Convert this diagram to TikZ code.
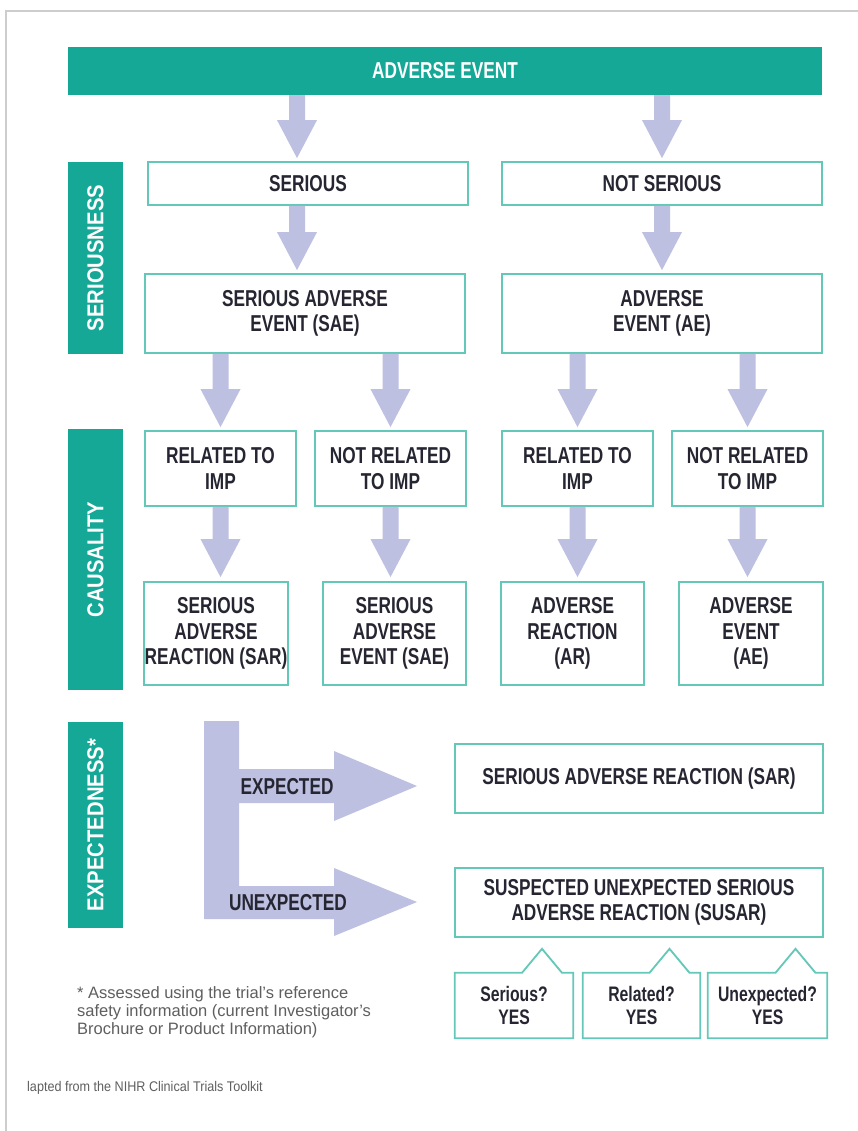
\documentclass[tikz,border=0pt]{standalone}
\usepackage{fontspec}
\setmainfont{Liberation Sans}
\newfontfamily\cond{Liberation Sans}[FakeStretch=0.75]
\newfontfamily\condside{Liberation Sans}[FakeStretch=0.88]
\newfontfamily\condfoot{Liberation Sans}[FakeStretch=0.9]
\usetikzlibrary{calc}
\definecolor{teal1}{RGB}{22,168,150}
\definecolor{bordercol}{RGB}{100,200,185}
\definecolor{arrcol}{RGB}{190,192,226}
\definecolor{txtcol}{RGB}{38,38,50}
\definecolor{footcol}{RGB}{95,95,95}
\definecolor{framecol}{RGB}{205,205,205}
\tikzset{
 box/.style={draw=bordercol, line width=1.8pt, fill=white, inner sep=0pt, align=center, text=txtcol, font=\cond\bfseries\fontsize{23}{25.5}\selectfont},
 sidebar/.style={fill=teal1, inner sep=0pt, text=white, font=\condside\bfseries\fontsize{23}{25}\selectfont},
 hdrbar/.style={fill=teal1, inner sep=0pt, text=white, font=\cond\bfseries\fontsize{23}{25}\selectfont},
 arr/.style={fill=arrcol},
 calloutbox/.style={inner sep=0pt, align=center, text=txtcol, font=\cond\bfseries\fontsize{21}{23}\selectfont},
 callline/.style={draw=bordercol, line width=1.8pt, line join=miter},
 elabel/.style={inner sep=0pt, text=txtcol, font=\cond\bfseries\fontsize{23}{25}\selectfont},
}
\newcommand\fatdown[2]{\fill[arr] let \p1=#1, \p2=#2 in (\x1-8pt,\y1) -- (\x1+8pt,\y1) -- (\x1+8pt,\y2+38pt) -- (\x1+20pt,\y2+38pt) -- (\x1,\y2) -- (\x1-20pt,\y2+38pt) -- (\x1-8pt,\y2+38pt) -- cycle;}
\newcommand\callout[4]{%
  \node[calloutbox, minimum width=#3pt, minimum height=65pt] (#1) at (#2,1005.5) {#4};
  \draw[callline] (#1.north west) -- ([xshift=8pt]#1.north) -- ([xshift=28pt,yshift=24pt]#1.north) -- ([xshift=48pt]#1.north) -- (#1.north east) -- (#1.south east) -- (#1.south west) -- cycle;}
\begin{document}
\begin{tikzpicture}[x=1pt,y=-1pt]
\useasboundingbox (0,0) rectangle (858,1131);
\fill[white] (0,0) rectangle (858,1131);
% page frame
\draw[framecol, line width=1.5pt] (6,1131) -- (6,11) -- (858,11);

% header
\node[hdrbar, minimum width=754pt, minimum height=48pt] (hdr) at (445,71) {ADVERSE EVENT};

% side bars
\node[sidebar, rotate=90, minimum width=192pt, minimum height=55pt] (sb1) at (95.5,258) {SERIOUSNESS};
\node[sidebar, rotate=90, minimum width=261pt, minimum height=55pt] (sb2) at (95.5,559.5) {CAUSALITY};
\node[sidebar, rotate=90, minimum width=206pt, minimum height=55pt] (sb3) at (95.5,825) {EXPECTEDNESS*};

% row 1
\node[box, minimum width=320pt, minimum height=43pt] (serious) at (308,183.5) {SERIOUS};
\node[box, minimum width=320pt, minimum height=43pt] (notser) at (662,183.5) {NOT SERIOUS};
% row 2
\node[box, minimum width=320pt, minimum height=79pt] (sae) at (305,313.5) {SERIOUS ADVERSE\\EVENT (SAE)};
\node[box, minimum width=320pt, minimum height=79pt] (ae) at (662,313.5) {ADVERSE\\EVENT (AE)};
% row 3
\node[box, minimum width=151pt, minimum height=75pt] (r1) at (220.5,468.5) {RELATED TO\\IMP};
\node[box, minimum width=151pt, minimum height=75pt] (r2) at (390.5,468.5) {NOT RELATED\\TO IMP};
\node[box, minimum width=151pt, minimum height=75pt] (r3) at (577.5,468.5) {RELATED TO\\IMP};
\node[box, minimum width=151pt, minimum height=75pt] (r4) at (747.5,468.5) {NOT RELATED\\TO IMP};
% row 4
\node[box, minimum width=144pt, minimum height=103pt] (s1) at (216,633.5) {SERIOUS\\ADVERSE\\REACTION (SAR)};
\node[box, minimum width=143pt, minimum height=103pt] (s2) at (394.5,633.5) {SERIOUS\\ADVERSE\\EVENT (SAE)};
\node[box, minimum width=143pt, minimum height=103pt] (s3) at (572.5,633.5) {ADVERSE\\REACTION\\(AR)};
\node[box, minimum width=144pt, minimum height=103pt] (s4) at (751,633.5) {ADVERSE\\EVENT\\(AE)};

% arrows
\coordinate (a1) at ([xshift=-11pt]serious.north);
\fatdown{(a1 |- hdr.south)}{([yshift=3pt]serious.north)}
\fatdown{(notser.north |- hdr.south)}{([yshift=3pt]notser.north)}
\fatdown{(a1 |- serious.south)}{([yshift=3pt]sae.north)}
\fatdown{(notser.south)}{([yshift=3pt]ae.north)}
\fatdown{(r1.north |- sae.south)}{([yshift=3pt]r1.north)}
\fatdown{(r2.north |- sae.south)}{([yshift=3pt]r2.north)}
\fatdown{(r3.north |- ae.south)}{([yshift=3pt]r3.north)}
\fatdown{(r4.north |- ae.south)}{([yshift=3pt]r4.north)}
\fatdown{(r1.south)}{([yshift=4pt]s1.north)}
\fatdown{(r2.south)}{([yshift=4pt]s2.north)}
\fatdown{(r3.south)}{([yshift=4pt]s3.north)}
\fatdown{(r4.south)}{([yshift=4pt]s4.north)}

% expectedness L-arrow
\fill[arr] (204,721) -- (239,721) -- (239,769) -- (334,769) -- (334,751) -- (417,786) -- (334,821) -- (334,803) -- (239,803) -- (239,886) -- (334,886) -- (334,868) -- (417,902) -- (334,936) -- (334,919) -- (204,919) -- cycle;
\node[elabel] (lexp) at (287,787) {EXPECTED};
\node[elabel] (lunexp) at (288,903) {UNEXPECTED};

% outcome boxes
\node[box, minimum width=368pt, minimum height=69pt] (sar) at (639,778.5) {SERIOUS ADVERSE REACTION (SAR)};
\node[box, minimum width=368pt, minimum height=69pt] (susar) at (639,902.5) {SUSPECTED UNEXPECTED SERIOUS\\ADVERSE REACTION (SUSAR)};

% callouts
\callout{c1}{514}{118}{Serious?\\YES}
\callout{c2}{641.5}{117}{Related?\\YES}
\callout{c3}{767.5}{119}{Unexpected?\\YES}

% footnote
\node[anchor=north west, align=left, inner sep=0pt, text=footcol, font=\fontsize{16.5}{18}\selectfont] (fn) at (77,986) {* Assessed using the trial's reference\\safety information (current Investigator's\\Brochure or Product Information)};
\node[anchor=base west, inner sep=0pt, text=footcol, font=\condfoot\fontsize{14}{16}\selectfont] (ft) at (27,1091) {lapted from the NIHR Clinical Trials Toolkit};
\end{tikzpicture}
\end{document}
